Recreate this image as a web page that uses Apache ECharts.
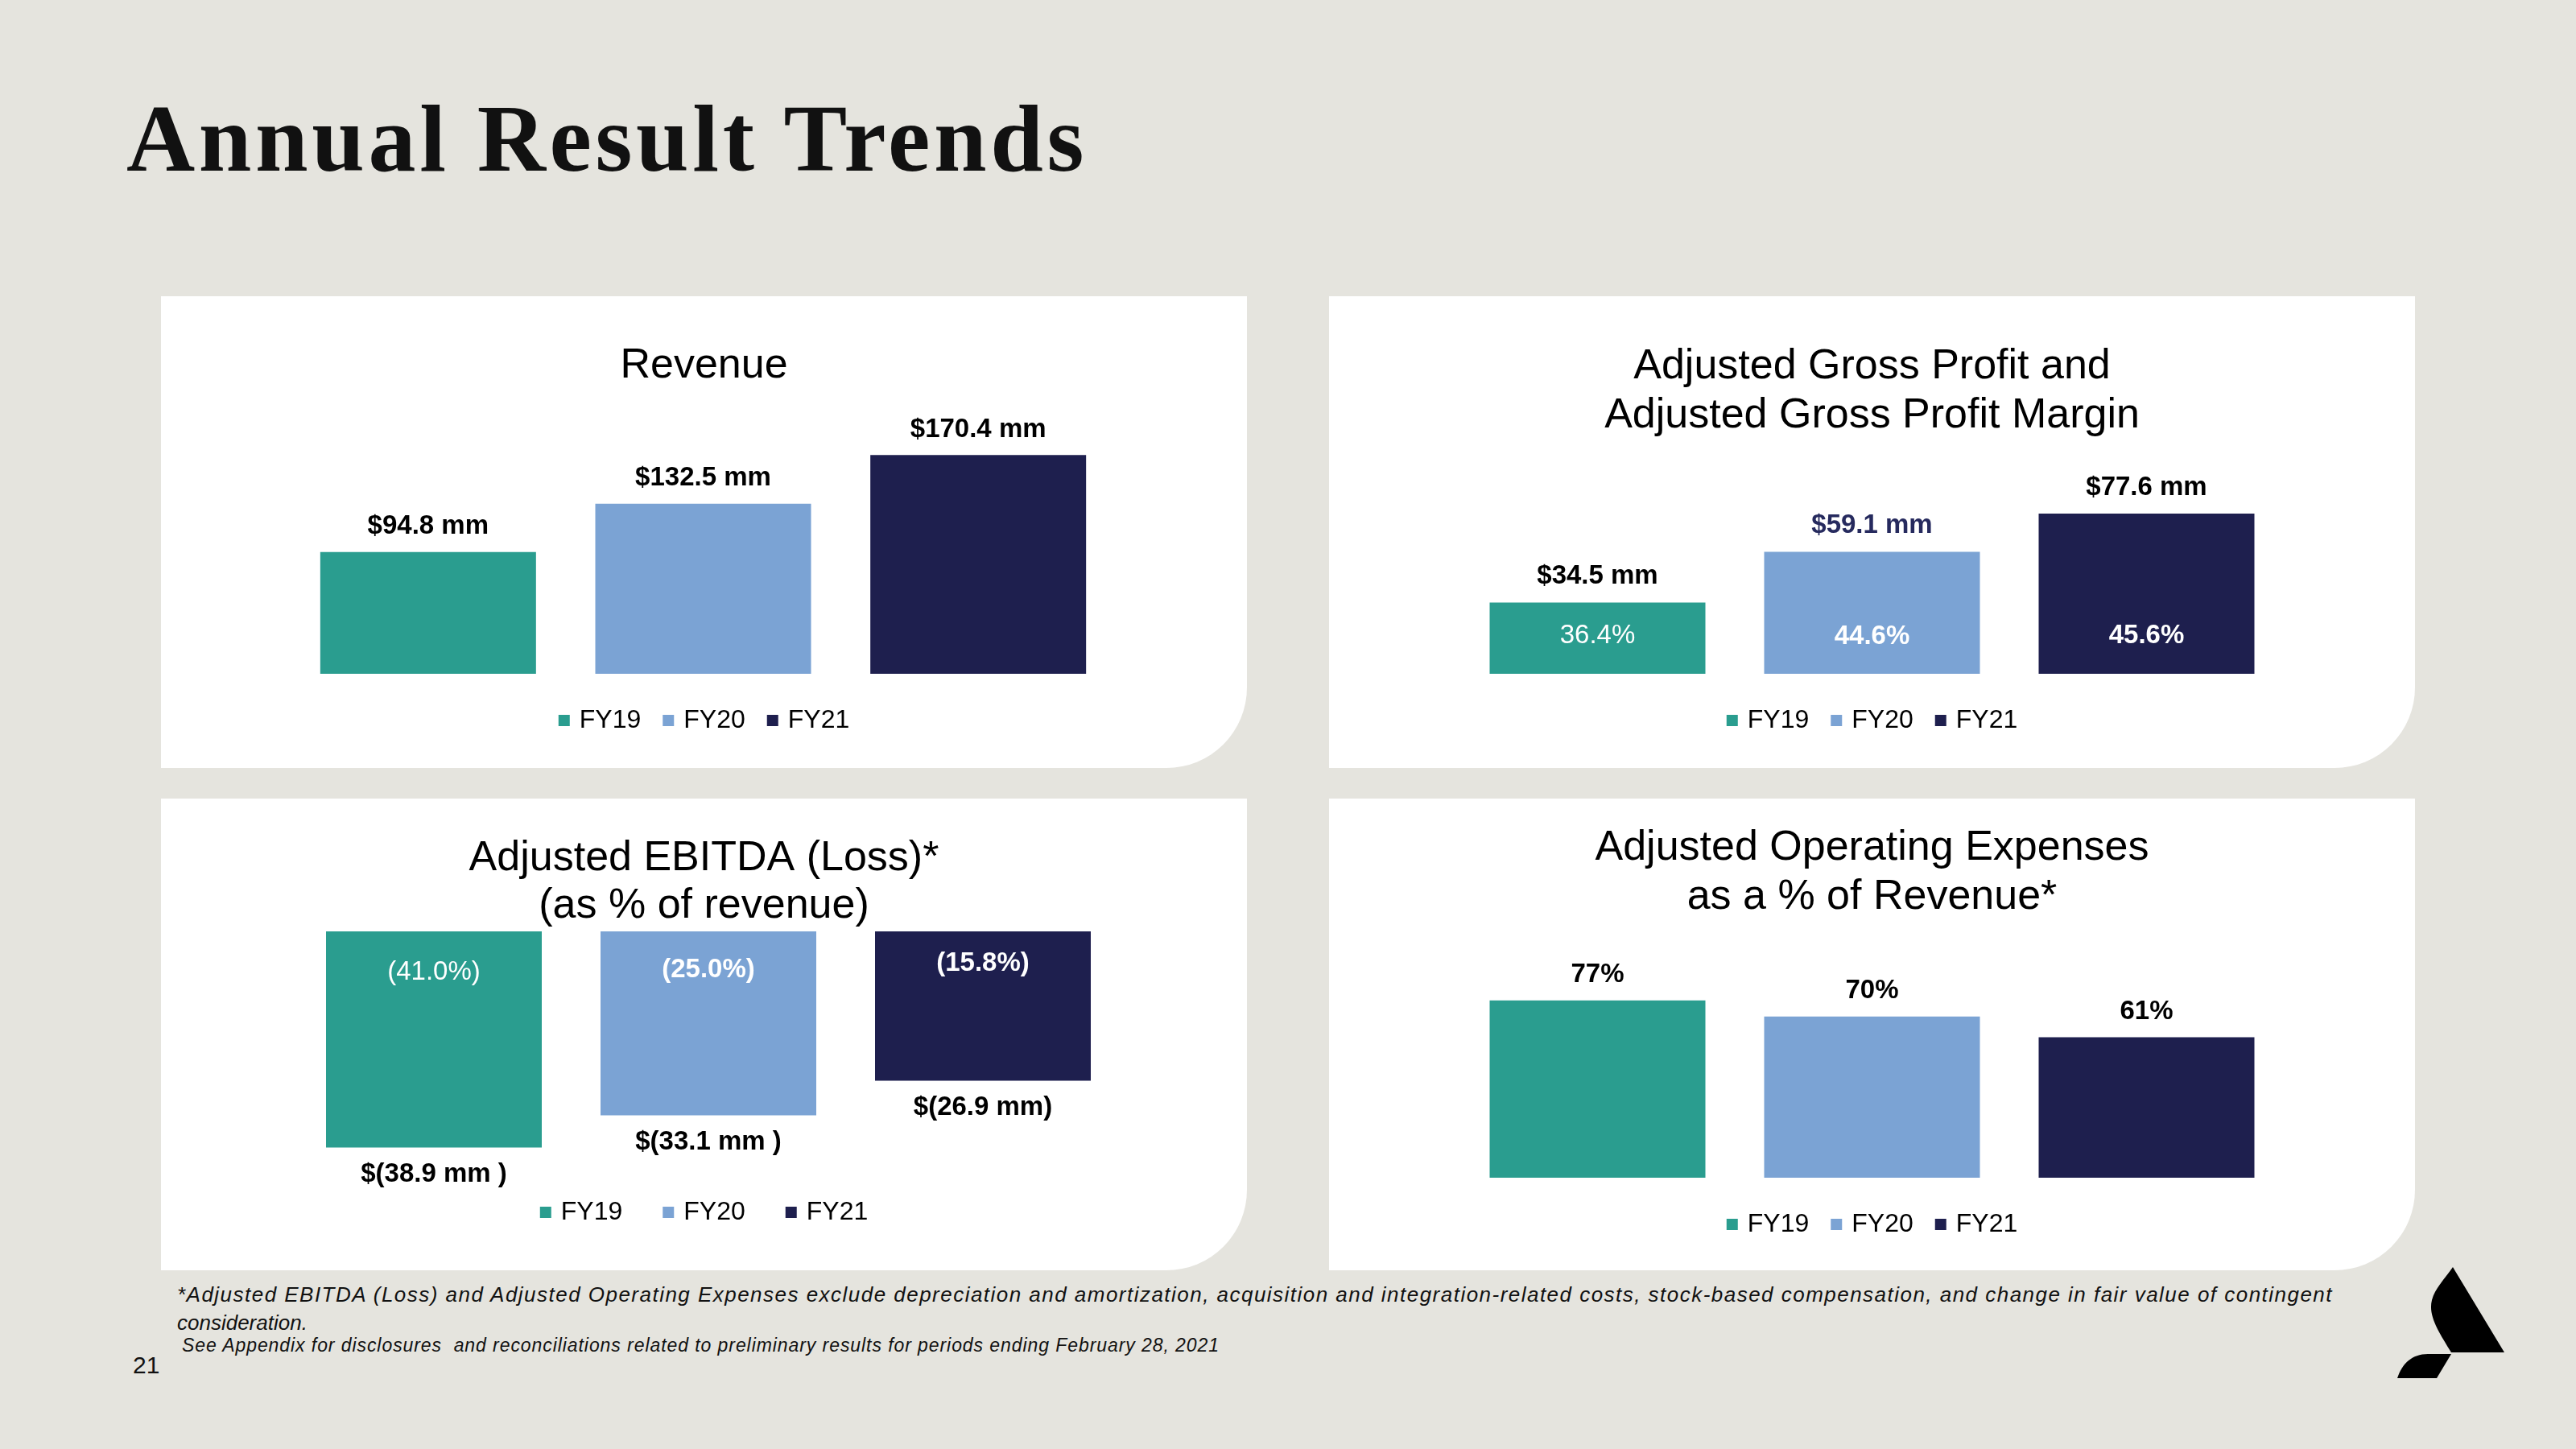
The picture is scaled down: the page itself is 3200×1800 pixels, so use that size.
<!DOCTYPE html>
<html>
<head>
<meta charset="utf-8">
<script src="https://cdn.jsdelivr.net/npm/echarts@6/dist/echarts.min.js"></script>
<style>
html,body{margin:0;padding:0;}
body{width:3200px;height:1800px;background:#E5E4DE;position:relative;overflow:hidden;font-family:'Liberation Sans',Arial,sans-serif;}
.panel{position:absolute;width:1349px;height:586px;background:#ffffff;border-bottom-right-radius:100px;}
.chart{position:absolute;left:0;top:0;width:1349px;height:586px;}
#heading{position:absolute;left:157px;top:114px;font-family:'Liberation Serif',serif;font-weight:bold;font-size:118px;line-height:118px;color:#111;white-space:nowrap;}
.fn{position:absolute;font-family:'Liberation Sans',sans-serif;font-style:italic;color:#111;white-space:nowrap;}
#page{position:absolute;left:165px;top:1681px;font-family:'Liberation Sans Narrow','Liberation Sans',sans-serif;font-size:30px;line-height:30px;color:#111;}
svg#logo{position:absolute;left:0;top:0;width:3200px;height:1800px;pointer-events:none;}
</style>
</head>
<body>
<div id="heading">Annual Result Trends</div>
<div class="panel" style="left:200px;top:368px"><div class="chart" id="c1"></div></div>
<div class="panel" style="left:1651px;top:368px"><div class="chart" id="c2"></div></div>
<div class="panel" style="left:200px;top:992px"><div class="chart" id="c3"></div></div>
<div class="panel" style="left:1651px;top:992px"><div class="chart" id="c4"></div></div>
<div class="fn" id="fn1" style="left:220px;top:1595px;font-size:26px;line-height:26px">*Adjusted EBITDA (Loss) and Adjusted Operating Expenses exclude depreciation and amortization, acquisition and integration-related costs, stock-based compensation, and change in fair value of contingent</div>
<div class="fn" id="fn2" style="left:220px;top:1630px;font-size:26px;line-height:26px">consideration.</div>
<div class="fn" id="fn3" style="left:226px;top:1660px;font-size:23px;line-height:23px">See Appendix for disclosures &nbsp;and reconciliations related to preliminary results for periods ending February 28, 2021</div>
<div id="page">21</div>
<svg id="logo" viewBox="0 0 3200 1800">
  <path d="M3047,1574 L3111,1680 L3045,1680 C3030,1655 3016,1635 3021,1615 C3025,1600 3036,1590 3047,1574 Z" fill="#000"/>
  <path d="M3045,1682 L3027,1712 L2978,1712 C2984,1694 2996,1682 3016,1682 Z" fill="#000"/>
</svg>
<script>
// ---- data ----
const years = ['FY19', 'FY20', 'FY21'];
const revenue = [94.8, 132.5, 170.4];
const grossProfit = [34.5, 59.1, 77.6];
const grossMargin = [36.4, 44.6, 45.6];
const ebitda = [-38.9, -33.1, -26.9];
const ebitdaPct = [-41.0, -25.0, -15.8];
const ebitdaLabels = ['$(38.9 mm )', '$(33.1 mm )', '$(26.9 mm)'];
const opexPct = [77, 70, 61];

// ---- style ----
const colors = ['#2A9D8F', '#7BA3D4', '#1E1F4E'];
const FONT = "'Liberation Sans', Arial, sans-serif";

function fitWidth(id, target) {
  const el = document.getElementById(id);
  const n = el.textContent.length;
  const w = el.getBoundingClientRect().width;
  el.style.letterSpacing = ((target - w) / n) + 'px';
}
fitWidth('heading', 1194);
fitWidth('fn1', 2678);
fitWidth('fn3', 1289);

function makeChart(id, cfg) {
  const chart = echarts.init(document.getElementById(id), null, {renderer: 'canvas'});
  const series = years.map((y, i) => ({
    name: y,
    type: 'bar',
    barWidth: 268,
    barGap: '-100%',
    animation: false,
    data: years.map((_, j) => (j === i ? cfg.values[i] : null)),
    itemStyle: {color: colors[i]},
    label: {
      show: true,
      position: cfg.labelPos,
      distance: cfg.labelDist,
      formatter: () => cfg.labelText[i],
      fontSize: 33,
      fontWeight: 'bold',
      fontFamily: FONT,
      color: cfg.labelColors ? cfg.labelColors[i] : '#000'
    }
  }));
  if (cfg.inner) {
    series.push({
      name: 'inner',
      type: 'bar',
      barWidth: 268,
      barGap: '-100%',
      animation: false,
      silent: true,
      z: 5,
      data: cfg.values.map((v, i) => ({
        value: v,
        label: {fontWeight: cfg.innerWeights[i], distance: cfg.innerDists[i]}
      })),
      itemStyle: {color: 'rgba(0,0,0,0)'},
      label: {
        show: true,
        position: cfg.innerPos,
        color: '#ffffff',
        fontSize: 33,
        fontFamily: FONT,
        formatter: p => cfg.inner[p.dataIndex]
      }
    });
  }
  chart.setOption({
    animation: false,
    title: {
      text: cfg.title,
      left: 'center',
      top: cfg.titleTop,
      padding: 0,
      textStyle: {fontSize: 52, fontWeight: 'normal', color: '#000', fontFamily: FONT, lineHeight: cfg.titleLH}
    },
    legend: {
      data: years,
      left: 'center',
      top: cfg.legendTop,
      padding: 0,
      icon: 'rect',
      itemWidth: 14,
      itemHeight: 14,
      itemGap: cfg.legendGap,
      selectedMode: false,
      textStyle: {fontSize: 32, color: '#000', fontFamily: FONT, padding: [0, 0, 0, 7]}
    },
    grid: Object.assign({containLabel: false}, cfg.grid),
    xAxis: {type: 'category', data: years, show: false},
    yAxis: {type: 'value', min: cfg.min, max: cfg.max, show: false, splitLine: {show: false}},
    series: series
  });
}

makeChart('c1', {
  title: 'Revenue', titleTop: 61, titleLH: 52,
  values: revenue,
  labelText: revenue.map(v => '$' + v.toFixed(1) + ' mm'),
  labelPos: 'top', labelDist: 15,
  grid: {left: 161, right: 163, top: 150, bottom: 117},
  min: 0, max: 200,
  legendTop: 511, legendGap: 27
});

makeChart('c2', {
  title: 'Adjusted Gross Profit and\nAdjusted Gross Profit Margin', titleTop: 57.5, titleLH: 61,
  values: grossProfit,
  labelText: grossProfit.map(v => '$' + v.toFixed(1) + ' mm'),
  labelColors: ['#000', '#262A5E', '#000'],
  labelPos: 'top', labelDist: 16,
  inner: grossMargin.map(v => v.toFixed(1) + '%'),
  innerWeights: ['normal', 'bold', 'bold'],
  innerDists: [31, 30, 31],
  innerPos: 'insideBottom',
  grid: {left: 163, right: 163, top: 212.5, bottom: 117},
  min: 0, max: 100,
  legendTop: 511, legendGap: 27
});

makeChart('c3', {
  title: 'Adjusted EBITDA (Loss)*\n(as % of revenue)', titleTop: 45, titleLH: 59,
  values: ebitda,
  labelText: ebitdaLabels,
  labelPos: 'bottom', labelDist: 17,
  inner: ebitdaPct.map(v => '(' + Math.abs(v).toFixed(1) + '%)'),
  innerWeights: ['normal', 'bold', 'bold'],
  innerDists: [34, 31, 23],
  innerPos: 'insideTop',
  grid: {left: 168.5, right: 157.5, top: 165, bottom: 76},
  min: -50, max: 0,
  legendTop: 498, legendGap: 50
});

makeChart('c4', {
  title: 'Adjusted Operating Expenses\nas a % of Revenue*', titleTop: 31.5, titleLH: 61,
  values: opexPct,
  labelText: opexPct.map(v => v + '%'),
  labelPos: 'top', labelDist: 15,
  grid: {left: 163, right: 163, top: 185, bottom: 115},
  min: 0, max: 100,
  legendTop: 513, legendGap: 27
});
</script>
</body>
</html>
